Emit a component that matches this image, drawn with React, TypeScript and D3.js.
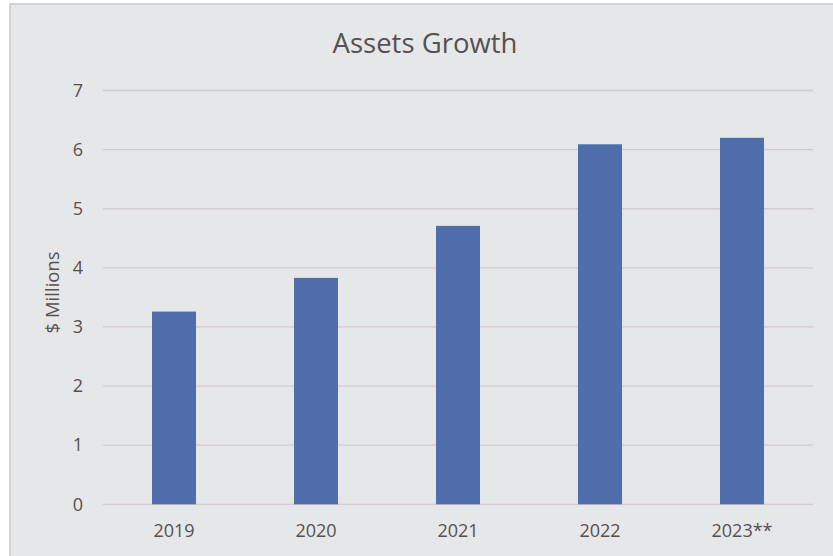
import React from "react";
import * as d3 from "d3";

const categories = ["2019", "2020", "2021", "2022", "2023**"];
const assets = [3.26, 3.83, 4.71, 6.09, 6.2];
const yTicks = [0, 1, 2, 3, 4, 5, 6, 7];
const title = "Assets Growth";
const yLabel = "$ Millions";

const W = 833;
const H = 556;
const plot = { left: 103, right: 813, top: 90.5, bottom: 504.3 };
const FONT = "'Open Sans', sans-serif";
const TEXT = "#575050";

export default function App() {
  const x = d3
    .scaleBand<string>()
    .domain(categories)
    .range([plot.left, plot.right])
    .paddingInner(0.69)
    .paddingOuter(0.345);
  const y = d3.scaleLinear().domain([0, 7]).range([plot.bottom, plot.top]);

  return (
    <svg
      width={W}
      height={H}
      style={{ position: "absolute", left: 0, top: 0 }}
      fontFamily={FONT}
    >
      <rect x={0} y={0} width={W} height={H} fill="#ffffff" />
      <rect x={10} y={4} width={W + 10} height={H + 10} fill="#e6e7e9" stroke="#c9c9c9" strokeWidth={1.5} />
      <text x={425} y={53} textAnchor="middle" fontSize={27.5} fill={TEXT}>
        {title}
      </text>
      {yTicks.map((t) => (
        <g key={t}>
          <line x1={plot.left} x2={plot.right} y1={y(t)} y2={y(t)} stroke="#d2cbcb" strokeWidth={1.3} />
          <text x={83} y={y(t)} dy="0.35em" textAnchor="end" fontSize={18} fill={TEXT}>
            {t}
          </text>
        </g>
      ))}
      {categories.map((c, i) => (
        <rect
          key={c}
          x={x(c)}
          y={y(assets[i])}
          width={x.bandwidth()}
          height={y(0) - y(assets[i])}
          fill="#4f6eab"
        />
      ))}
      {categories.map((c) => (
        <text key={c} x={(x(c) ?? 0) + x.bandwidth() / 2} y={537} textAnchor="middle" fontSize={18} fill={TEXT}>
          {c}
        </text>
      ))}
      <text
        transform={`translate(53,${(plot.top + plot.bottom) / 2 - 5}) rotate(-90)`}
        dy="0.35em"
        textAnchor="middle"
        fontSize={18.5}
        fill={TEXT}
      >
        {yLabel}
      </text>
    </svg>
  );
}
